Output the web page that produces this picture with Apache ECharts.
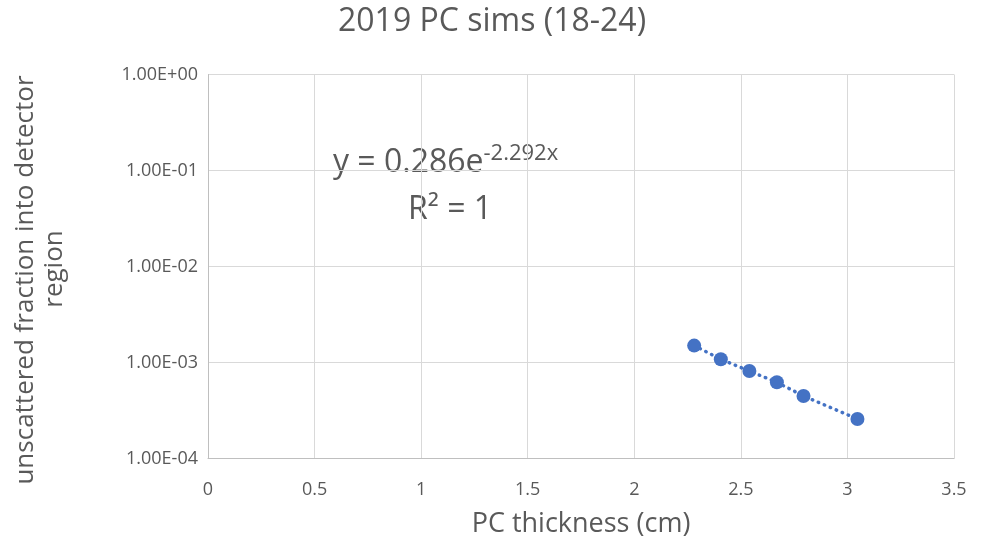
<!DOCTYPE html>
<html>
<head>
<meta charset="utf-8">
<script src="https://cdn.jsdelivr.net/npm/echarts@6/dist/echarts.min.js"></script>
<style>html,body{margin:0;padding:0;background:#fff}#c{width:989px;height:550px}</style>
</head>
<body>
<div id="c"></div>
<script>
var titleText = '2019 PC sims (18-24)';
var xName = 'PC thickness (cm)';
var yNameLines = ['unscattered fraction into detector', 'region'];
var thickness = [2.281, 2.406, 2.540, 2.669, 2.794, 3.047];
var unscattered = [1.50e-3, 1.08e-3, 8.15e-4, 6.22e-4, 4.48e-4, 2.58e-4];
var eqMain = 'y = 0.286e';
var eqExp = '-2.292x';
var r2Text = 'R² = 1';

var FONT = '"Open Sans", sans-serif';
var TXT = '#595959';
var BLUE = '#4472c4';

function sci(v) {
  var e = Math.round(Math.log10(v));
  var m = v / Math.pow(10, e);
  var sign = e < 0 ? '-' : '+';
  var ae = Math.abs(e);
  return m.toFixed(2) + 'E' + sign + (ae < 10 ? '0' + ae : ae);
}

var pts = thickness.map(function (x, i) { return [x, unscattered[i]]; });

var chart = echarts.init(document.getElementById('c'), null, {renderer: 'canvas'});
chart.setOption({
  animation: false,
  backgroundColor: '#ffffff',
  title: {
    text: titleText, left: 333, top: 1,
    textStyle: {fontFamily: FONT, fontSize: 32, fontWeight: 'normal', color: TXT}
  },
  grid: {left: 208, right: 35, top: 74.5, bottom: 91.5, containLabel: false},
  xAxis: {
    type: 'value', min: 0, max: 3.5, interval: 0.5,
    name: xName, nameLocation: 'middle', nameGap: 52,
    nameTextStyle: {fontFamily: FONT, fontSize: 27, color: TXT},
    axisLine: {lineStyle: {color: '#bfbfbf', width: 1}},
    axisTick: {show: false},
    splitLine: {lineStyle: {color: '#d9d9d9', width: 1}},
    axisLabel: {fontFamily: FONT, fontSize: 18, color: TXT, margin: 22,
      formatter: function (v) { return String(v); }}
  },
  yAxis: {
    type: 'log', logBase: 10, min: 1e-4, max: 1,
    axisLine: {show: true, lineStyle: {color: '#bfbfbf', width: 1}},
    axisTick: {show: false},
    splitLine: {lineStyle: {color: '#d9d9d9', width: 1}},
    minorSplitLine: {show: false},
    axisLabel: {fontFamily: FONT, fontSize: 18, color: TXT, margin: 10,
      formatter: function (v) { return sci(v); }}
  },
  graphic: [
    {type: 'text', rotation: Math.PI / 2, x: 26, y: 280,
      style: {text: yNameLines[0], font: '26px "Open Sans", sans-serif', fill: TXT, align: 'center', verticalAlign: 'middle'}},
    {type: 'text', rotation: Math.PI / 2, x: 55, y: 269,
      style: {text: yNameLines[1], font: '26px "Open Sans", sans-serif', fill: TXT, align: 'center', verticalAlign: 'middle'}},
    {type: 'text', x: 333, y: 163,
      style: {
        text: '{a|' + eqMain + '}{b|' + eqExp + '}',
        fill: TXT,
        rich: {
          a: {fontFamily: FONT, fontSize: 32, fill: TXT, color: TXT, lineHeight: 40},
          b: {fontFamily: FONT, fontSize: 22, fill: TXT, color: TXT, padding: [0, 0, 18, 0]}
        },
        align: 'left', verticalAlign: 'middle'
      }},
    {type: 'text', x: 450, y: 210,
      style: {text: r2Text, font: '32px "Open Sans", sans-serif', fill: TXT, align: 'center', verticalAlign: 'middle'}}
  ],
  series: [
    {
      type: 'line', data: pts, symbol: 'none', silent: true, z: 2,
      lineStyle: {color: BLUE, width: 3.5, type: [0.5, 6], cap: 'round'}
    },
    {
      type: 'scatter', data: pts, symbol: 'circle', symbolSize: 14, z: 3,
      itemStyle: {color: BLUE, opacity: 1}
    }
  ]
});
</script>
</body>
</html>
